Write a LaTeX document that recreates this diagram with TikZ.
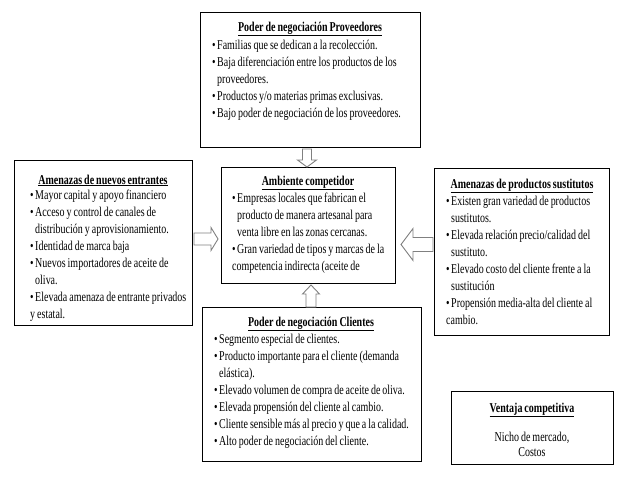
\documentclass[tikz,border=0pt]{standalone}
\usepackage{fontspec}
\setmainfont{Liberation Serif}[FakeStretch=0.74]
\usetikzlibrary{calc}
\newcommand\tightsp{\spaceskip=2pt plus 1pt minus 0.3pt\relax\xspaceskip=2pt plus 1pt\relax}
\newcommand\fb{\tightsp\hangindent=5pt\hangafter=1\noindent\makebox[5pt][l]{\textbullet}}
\newcommand\bul{\par\fb}
\newcommand\txtfont{\fontsize{13.5}{17}\selectfont\tightsp}
\newcommand\barrow[5]{%
  \coordinate (bN) at ($(#2)!#5!(#1)$);
  \draw[arr] ($(#1)!#3!90:(#2)$) -- ($(bN)!#3!90:(#2)$) -- ($(bN)!#4!90:(#2)$) -- (#2)
    -- ($(bN)!#4!-90:(#2)$) -- ($(bN)!#3!-90:(#2)$) -- ($(#1)!#3!-90:(#2)$) -- cycle;}
\begin{document}
\begin{tikzpicture}[x=1pt,y=-1pt,
  box/.style={draw=black, line width=1pt, anchor=north west, inner sep=0pt},
  ttl/.style={anchor=base, inner sep=0pt, font=\txtfont\bfseries},
  lst/.style={anchor=base west, inner sep=0pt, text width=260pt, align=left, font=\txtfont},
  pln/.style={anchor=base, inner sep=0pt, font=\txtfont},
  arr/.style={draw=black!50, line width=0.9pt, fill=white}]
\useasboundingbox (0,0) rectangle (632,477);
% boxes
\node[box, minimum width=220pt, minimum height=135pt] (prov) at (200,12) {};
\node[box, minimum width=178pt, minimum height=165pt] (ent) at (14,160) {};
\node[box, minimum width=174pt, minimum height=116pt] (amb) at (221,167) {};
\node[box, minimum width=175pt, minimum height=167pt] (sus) at (434,168) {};
\node[box, minimum width=219pt, minimum height=154pt] (cli) at (202,307) {};
\node[box, minimum width=162pt, minimum height=73pt] (ven) at (451,391) {};
% titles
\node[ttl] (provh) at (310,31) {\tightsp\underline{Poder de negociación Proveedores}};
\node[ttl] (enth) at (103,184) {\tightsp\underline{Amenazas de nuevos entrantes}};
\node[ttl] (ambh) at (308,185) {\tightsp\underline{Ambiente competidor}};
\node[ttl] (sush) at (522,188) {\tightsp\underline{Amenazas de productos sustitutos}};
\node[ttl] (clih) at (311,326) {\tightsp\underline{Poder de negociación Clientes}};
\node[ttl] (venh) at (532,412) {\tightsp\underline{Ventaja competitiva}};
% lists
\node[lst] (provl) at (212,49) {\fb Familias que se dedican a la recolección.
\bul Baja diferenciación entre los productos de los\newline proveedores.
\bul Productos y/o materias primas exclusivas.
\bul Bajo poder de negociación de los proveedores.};
\node[lst] (entl) at (30,199) {\fb Mayor capital y apoyo financiero
\bul Acceso y control de canales de\newline distribución y aprovisionamiento.
\bul Identidad de marca baja
\bul Nuevos importadores de aceite de\newline oliva.
\bul Elevada amenaza de entrante privados\newline y estatal.};
\node[lst] (ambl) at (232,202) {\fb Empresas locales que fabrican el\newline producto de manera artesanal para\newline venta libre en las zonas cercanas.
\bul Gran variedad de tipos y marcas de la\newline competencia indirecta (aceite de};
\node[lst] (susl) at (446,205) {\fb Existen gran variedad de productos\newline sustitutos.
\bul Elevada relación precio/calidad del\newline sustituto.
\bul Elevado costo del cliente frente a la\newline sustitución
\bul Propensión media-alta del cliente al\newline cambio.};
\node[lst] (clil) at (214,343) {\fb Segmento especial de clientes.
\bul Producto importante para el cliente (demanda\newline elástica).
\bul Elevado volumen de compra de aceite de oliva.
\bul Elevada propensión del cliente al cambio.
\bul Cliente sensible más al precio y que a la calidad.
\bul Alto poder de negociación del cliente.};
\node[pln] (venl1) at (532,441) {\tightsp Nicho de mercado,};
\node[pln] (venl2) at (532,456) {Costos};
% block arrows
\coordinate (a1t) at ($(prov.south)+(-3.5,1)$);
\coordinate (a1h) at ($(amb.north)+(-1.5,0)$);
\barrow{a1t}{a1h}{4.5pt}{9.5pt}{7pt}
\coordinate (a2t) at ($(ent.east)+(1,-4)$);
\coordinate (a2h) at ($(amb.west)+(-3,13.5)$);
\barrow{a2t}{a2h}{6pt}{11.5pt}{7pt}
\coordinate (a3t) at ($(sus.west)+(-1,-7.5)$);
\coordinate (a3h) at ($(amb.east)+(5,19)$);
\barrow{a3t}{a3h}{7pt}{16pt}{12pt}
\coordinate (a4t) at ($(cli.north)+(-1,0)$);
\coordinate (a4h) at ($(amb.south)+(2.5,1)$);
\barrow{a4t}{a4h}{5pt}{8.5pt}{9pt}
\end{tikzpicture}
\end{document}
